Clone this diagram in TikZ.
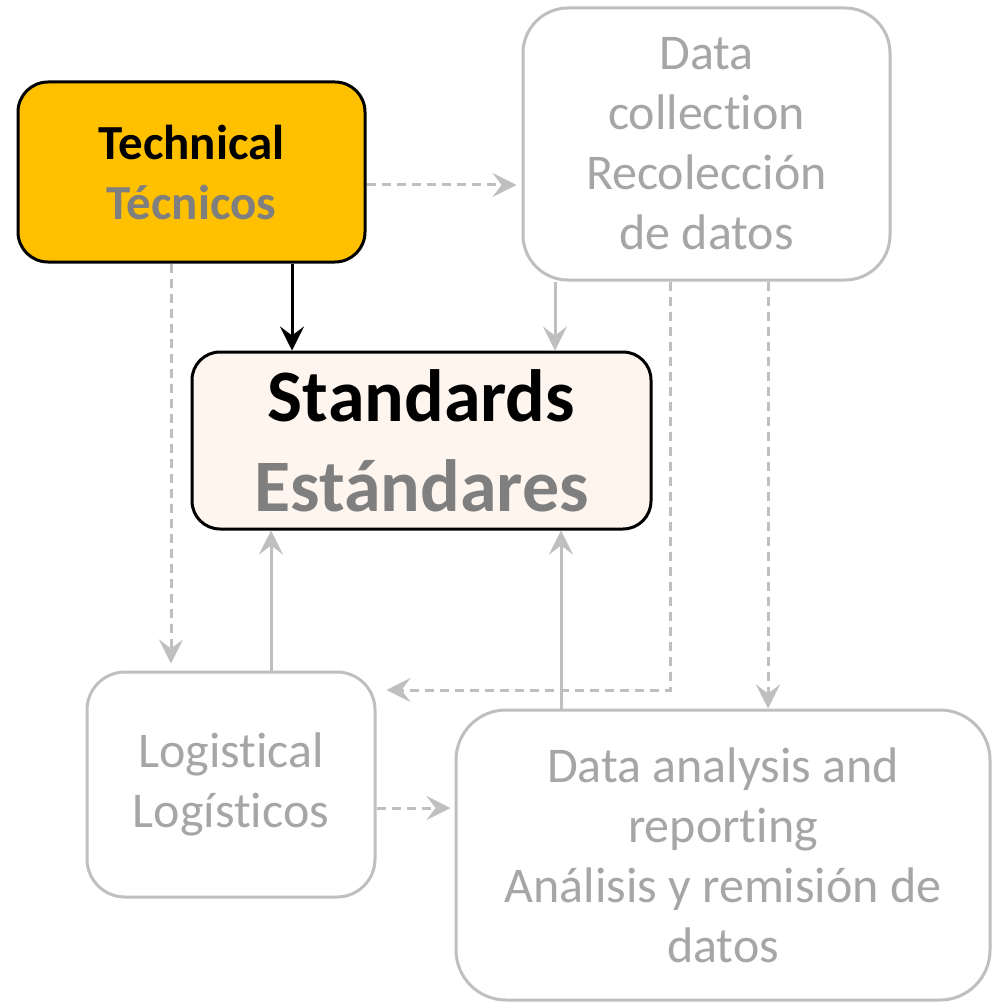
\documentclass[tikz,border=0pt]{standalone}
\usepackage{fontspec}
\setmainfont{Carlito}[Ligatures=NoCommon]
\usetikzlibrary{arrows.meta,positioning}
\definecolor{techfill}{RGB}{255,192,0}
\definecolor{stdfill}{RGB}{254,245,239}
\definecolor{boxgray}{RGB}{191,191,191}
\definecolor{textgray}{RGB}{166,166,166}
\definecolor{labelgray}{RGB}{127,127,127}

\begin{document}
\begin{tikzpicture}

      \tikzstyle{techbox}=[rectangle,rounded corners=30pt,
        minimum width=347pt,minimum height=180pt,inner sep=0pt,
        text centered,align=center,draw=black,line width=3pt,
        fill=techfill,font=\fontsize{49}{60}\selectfont\bfseries]
      \tikzstyle{stdbox}=[rectangle,rounded corners=28pt,
        minimum width=459pt,minimum height=177pt,inner sep=0pt,
        text centered,align=center,draw=black,line width=3pt,
        fill=stdfill,font=\fontsize{74}{90}\selectfont\bfseries]
      \tikzstyle{graybox}=[rectangle,rounded corners=45pt,
        inner sep=0pt,text centered,align=center,draw=boxgray,
        line width=3pt,fill=white,text=textgray,
        font=\fontsize{50}{60}\selectfont]
      \tikzstyle{flow}=[line width=3pt,boxgray,
        -{Stealth[length=24pt,width=24pt,inset=9pt]}]
      \tikzstyle{dflow}=[flow,dash pattern=on 9pt off 6pt]

      \useasboundingbox (0,0) rectangle (992pt,-1003pt);

      \node(Tech)[techbox] at (191.5pt,-172pt)
        {Technical\\\textcolor{labelgray}{Técnicos}};
      \node(Std)[stdbox,below =87pt of Tech,
        xshift=230pt]{Standards\\\textcolor{labelgray}{Estándares}};
      \node(Collect)[graybox,right =155pt of Tech,yshift=28pt,
        minimum width=367pt,minimum height=272pt]
        {Data\\collection\\Recolección\\de datos};
      \node(Logist)[graybox,below =140pt of Std,xshift=-190.5pt,
        minimum width=288pt,minimum height=225pt,rounded corners=38pt]
        {Logistical\\Logísticos};
      \node(Analysis)[graybox,right =78pt of Logist,yshift=-70.5pt,
        minimum width=534pt,minimum height=290pt,rounded corners=50pt]
        {Data analysis and\\reporting\\Análisis y remisión de\\datos};

      \coordinate(TechR) at ([yshift=-13pt]Tech.east);
      \coordinate(TechD) at ([xshift=100.5pt]Tech.south);
      \coordinate(TechL) at ([xshift=-20.5pt]Tech.south);
      \coordinate(CollA) at ([xshift=-151.5pt]Collect.south);
      \coordinate(CollB) at ([xshift=-36.5pt]Collect.south);
      \coordinate(CollC) at ([xshift=61.5pt]Collect.south);
      \coordinate(LogR) at ([yshift=94.5pt]Logist.east);
      \coordinate(LogU) at ([xshift=40pt]Logist.north);
      \coordinate(LogS) at ([yshift=-23.5pt]Logist.east);
      \coordinate(AnaU) at ([xshift=-162pt]Analysis.north);

      \draw [dflow,shorten >=5pt]
      (TechR)--(TechR -| Collect.west);
      \draw [flow,black,line width=3pt]
      (TechD)--(TechD |- Std.north);
      \draw [dflow,shorten >=7pt]
      (TechL)--(TechL |- Logist.north);
      \draw [flow]
      (CollA)--(CollA |- Std.north);
      \draw [dflow,shorten >=10pt]
      (CollB) |- (LogR);
      \draw [dflow]
      (CollC)--(CollC |- Analysis.north);
      \draw [flow]
      (AnaU)--(AnaU |- Std.south);
      \draw [flow]
      (LogU)--(LogU |- Std.south);
      \draw [dflow,shorten >=4pt]
      (LogS)--(LogS -| Analysis.west);

    \end{tikzpicture}
\end{document}
